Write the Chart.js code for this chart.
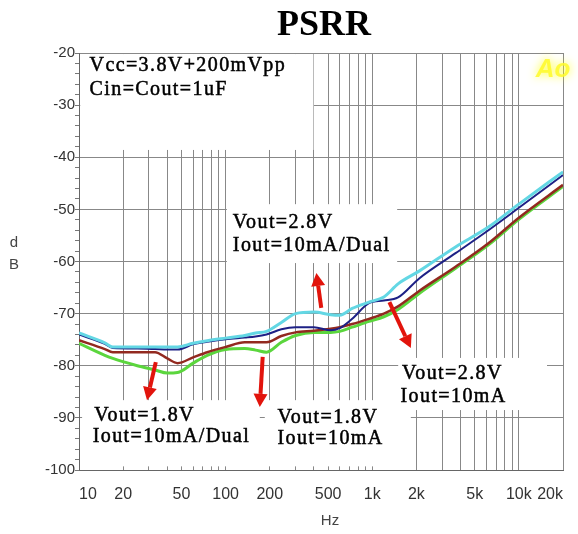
<!DOCTYPE html>
<html>
<head>
<meta charset="utf-8">
<title>PSRR</title>
<script src="https://cdn.jsdelivr.net/npm/chart.js@4.4.1/dist/chart.umd.min.js"></script>
<style>
  html, body { margin: 0; padding: 0; background: #fff; }
</style>
</head>
<body>
<canvas id="psrrChart" width="578" height="534"></canvas>
<script>
// Frequencies (Hz) shared by all four curves
const freqHz = [10, 15, 17, 25, 33, 40, 47, 60, 75, 100, 135, 160, 190, 240, 300, 400, 520, 600, 730, 950, 1200, 1500, 2100, 3700, 6200, 10000, 20000];

// PSRR in dB
const vout28Dual = [-73.7, -75.6, -76.4, -76.4, -76.4, -76.4, -76.4, -75.7, -75.2, -74.7, -74.2, -73.7, -73.4, -71.7, -70.0, -69.7, -70.2, -70.3, -69.0, -67.8, -66.8, -64.3, -61.8, -57.2, -53.4, -49.0, -42.8];
const vout28Single = [-74.0, -75.8, -76.6, -76.7, -76.8, -76.9, -76.9, -75.9, -75.4, -74.9, -74.6, -74.4, -74.0, -73.0, -72.6, -72.6, -73.2, -72.8, -71.0, -68.0, -67.5, -66.9, -63.2, -58.4, -54.0, -49.7, -43.4];
const vout18Single = [-75.1, -76.8, -77.4, -77.4, -77.4, -78.6, -79.5, -78.4, -77.4, -76.4, -75.5, -75.5, -75.5, -74.3, -73.6, -73.3, -72.9, -72.6, -72.0, -71.0, -70.0, -68.6, -65.6, -61.0, -56.5, -51.6, -45.3];
const vout18Dual = [-75.7, -78.0, -78.6, -80.0, -80.8, -81.4, -81.3, -79.5, -78.0, -76.9, -76.7, -77.0, -77.4, -75.5, -74.2, -73.6, -73.6, -73.4, -72.6, -71.5, -70.6, -69.2, -66.1, -61.3, -56.8, -51.9, -45.6];

// axis ticks
const gridFreqs = [10, 20, 30, 40, 50, 60, 70, 80, 90, 100, 200, 300, 400, 500, 600, 700, 800, 900,
  1000, 2000, 3000, 4000, 5000, 6000, 7000, 8000, 9000, 10000, 20000];
const freqLabels = { 10: '10', 20: '20', 50: '50', 100: '100', 200: '200', 500: '500',
  1000: '1k', 2000: '2k', 5000: '5k', 10000: '10k', 20000: '20k' };

// annotations in chart units [Hz, dB]
const notes = [
  [11.8, -22.5, 'Vcc=3.8V+200mVpp'],
  [11.8, -27.1, 'Cin=Cout=1uF'],
  [112, -52.6, 'Vout=2.8V'],
  [112, -56.9, 'Iout=10mA/Dual'],
  [1597, -81.6, 'Vout=2.8V'],
  [1560, -86.0, 'Iout=10mA'],
  [12.7, -89.5, 'Vout=1.8V'],
  [12.4, -93.7, 'Iout=10mA/Dual'],
  [226, -89.9, 'Vout=1.8V'],
  [226, -94.1, 'Iout=10mA']
];
const arrows = [
  [33.4, -79.3, 29.1, -86.6],
  [179, -78.3, 171, -87.9],
  [449, -68.9, 416, -62.2],
  [1309, -67.8, 1833, -76.6]
];
// white areas behind the labels, [f1, dB1, f2, dB2]
const labelBoxes = [
  [10.2, -20.2, 397, -38.6],
  [102, -49.0, 1479, -60.3],
  [1503, -78.5, 15560, -88.5],
  [10.5, -86.6, 171, -99.3],
  [185, -86.6, 1833, -99.3]
];

const toPoints = vals => vals.map((v, i) => ({ x: freqHz[i], y: v }));

const annotate = {
  id: 'annotate',
  beforeDatasetsDraw(chart) {
    const { ctx, scales: { x, y } } = chart;
    ctx.save();
    ctx.fillStyle = '#fff';
    labelBoxes.forEach(b => {
      const x1 = x.getPixelForValue(b[0]), x2 = x.getPixelForValue(b[2]);
      const y1 = y.getPixelForValue(b[1]), y2 = y.getPixelForValue(b[3]);
      ctx.fillRect(x1, y1, x2 - x1, y2 - y1);
    });
    ctx.restore();
  },
  afterDatasetsDraw(chart) {
    const { ctx, scales: { x, y } } = chart;
    ctx.save();

    // red arrows
    ctx.strokeStyle = '#e2140c';
    ctx.fillStyle = '#e2140c';
    ctx.lineWidth = 4;
    arrows.forEach(a => {
      const x0 = x.getPixelForValue(a[0]), y0 = y.getPixelForValue(a[1]);
      const x1 = x.getPixelForValue(a[2]), y1 = y.getPixelForValue(a[3]);
      const ang = Math.atan2(y1 - y0, x1 - x0);
      const head = 13, half = 7;
      const bx = x1 - head * Math.cos(ang), by = y1 - head * Math.sin(ang);
      ctx.beginPath();
      ctx.moveTo(x0, y0);
      ctx.lineTo(bx, by);
      ctx.stroke();
      ctx.beginPath();
      ctx.moveTo(x1, y1);
      ctx.lineTo(bx + half * Math.sin(ang), by - half * Math.cos(ang));
      ctx.lineTo(bx - half * Math.sin(ang), by + half * Math.cos(ang));
      ctx.closePath();
      ctx.fill();
    });

    // labels (a thin stroke makes them a little heavier, like the scan)
    ctx.fillStyle = '#000';
    ctx.strokeStyle = '#000';
    ctx.lineWidth = 0.5;
    ctx.font = '20px "Liberation Serif", "Times New Roman", serif';
    ctx.textAlign = 'left';
    ctx.textBaseline = 'middle';
    ctx.letterSpacing = '1.4px';
    notes.forEach(n => {
      const tx = x.getPixelForValue(n[0]), ty = y.getPixelForValue(n[1]);
      ctx.fillText(n[2], tx, ty);
      ctx.strokeText(n[2], tx, ty);
    });
    ctx.letterSpacing = '0px';

    // title
    ctx.font = 'bold 36px "Liberation Serif", "Times New Roman", serif';
    ctx.textAlign = 'center';
    ctx.fillText('PSRR', 324, 26);

    // axis titles
    ctx.fillStyle = '#444';
    ctx.font = '15px "Liberation Sans", Arial, sans-serif';
    ctx.fillText('Hz', 330, 521);
    ctx.fillText('d', 14, 243);
    ctx.fillText('B', 14, 265);

    // yellow watermark
    ctx.fillStyle = 'rgba(255, 250, 40, 0.85)';
    ctx.shadowColor = '#ffff00';
    ctx.shadowBlur = 10;
    ctx.font = 'italic bold 26px "Liberation Sans", Arial, sans-serif';
    ctx.fillText('Ao', 553, 70);
    ctx.restore();
  }
};

new Chart(document.getElementById('psrrChart'), {
  type: 'line',
  data: {
    datasets: [
      { label: 'Vout=2.8V Iout=10mA/Dual', data: toPoints(vout28Dual), borderColor: '#63d7e4', borderWidth: 3 },
      { label: 'Vout=2.8V Iout=10mA', data: toPoints(vout28Single), borderColor: '#1d2085', borderWidth: 2 },
      { label: 'Vout=1.8V Iout=10mA', data: toPoints(vout18Single), borderColor: '#92291f', borderWidth: 2.5 },
      { label: 'Vout=1.8V Iout=10mA/Dual', data: toPoints(vout18Dual), borderColor: '#5bd63d', borderWidth: 3 }
    ]
  },
  options: {
    responsive: false,
    animation: false,
    layout: { padding: { top: 53, right: 1, left: 0, bottom: 0 } },
    elements: {
      point: { radius: 0 },
      line: { cubicInterpolationMode: 'monotone', fill: false }
    },
    plugins: {
      legend: { display: false },
      tooltip: { enabled: false }
    },
    scales: {
      x: {
        type: 'logarithmic',
        min: 10,
        max: 20000,
        afterBuildTicks: s => { s.ticks = gridFreqs.map(v => ({ value: v })); },
        afterFit: s => { s.height = 64; },
        grid: { color: '#888', drawTicks: false },
        border: { color: '#666' },
        ticks: {
          autoSkip: false,
          maxRotation: 0,
          align: 'inner',
          padding: 15,
          color: '#333',
          font: { family: '"Liberation Sans", Arial, sans-serif', size: 16 },
          callback: v => freqLabels[v] || ''
        }
      },
      y: {
        min: -100,
        max: -20,
        afterFit: s => { s.width = 79; },
        grid: {
          color: c => Math.round(c.tick.value) % 10 === 0 ? '#888' : 'rgba(0,0,0,0)',
          tickColor: '#777',
          tickLength: 4
        },
        border: { color: '#666' },
        ticks: {
          stepSize: 2,
          autoSkip: false,
          padding: 0,
          color: '#333',
          font: { family: '"Liberation Sans", Arial, sans-serif', size: 15 },
          callback: v => Math.round(v) % 10 === 0 ? String(Math.round(v)) : ''
        }
      }
    }
  },
  plugins: [annotate]
});
</script>
</body>
</html>
